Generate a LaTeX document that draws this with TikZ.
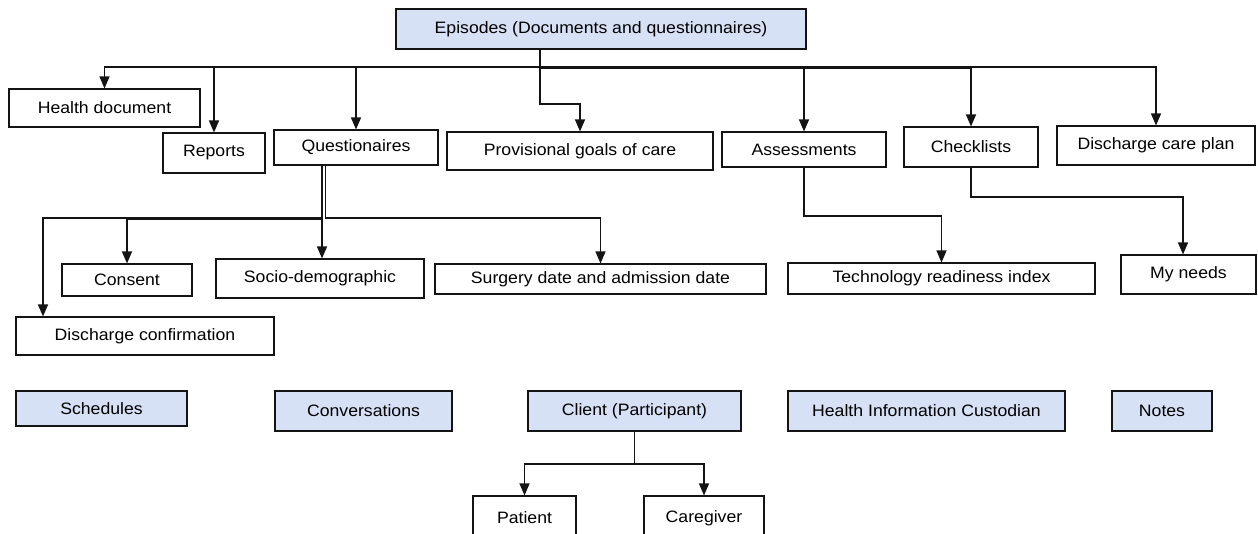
\documentclass[tikz,border=0pt]{standalone}
\usepackage{fontspec}
\setmainfont{Liberation Sans}[FakeStretch=1.07]
\usetikzlibrary{arrows.meta,calc}
\definecolor{headfill}{RGB}{214,225,245}
\definecolor{edgecol}{RGB}{20,20,20}
\begin{document}
\begin{tikzpicture}[x=1pt,y=-1pt,
  box/.style={draw=edgecol,line width=1.1pt,fill=white,inner sep=0pt,
    font=\fontsize{16.5}{20}\selectfont},
  head/.style={box,fill=headfill},
  arr/.style={draw=edgecol,line width=1.3pt,-{Triangle[length=12pt,width=10pt]}}]
\useasboundingbox (0,0) rectangle (1258,534);
\clip (0,0) rectangle (1258,534);
\fill[white] (0,0) rectangle (1258,534);

% top level
\node[head,minimum width=410,minimum height=40] (ep) at (601,29) {Episodes (Documents and questionnaires)};

\node[box,minimum width=191,minimum height=38] (hd) at (104.5,108) {Health document};
\node[box,minimum width=102,minimum height=40] (rep) at (214,153) {Reports};
\node[box,minimum width=164,minimum height=35] (que) at (356,147.5) {Questionaires};
\node[box,minimum width=266,minimum height=38] (prov) at (580,151) {Provisional goals of care};
\node[box,minimum width=164,minimum height=35] (ass) at (804,149.5) {Assessments};
\node[box,minimum width=134,minimum height=40] (chk) at (971,147) {Checklists};
\node[box,minimum width=198,minimum height=39] (dcp) at (1156,145.5) {Discharge care plan};

% second level
\node[box,minimum width=130,minimum height=32] (cons) at (127,280) {Consent};
\node[box,minimum width=208,minimum height=39] (socio) at (320,278.5) {Socio-demographic};
\node[box,minimum width=331,minimum height=30] (surg) at (600.5,279) {Surgery date and admission date};
\node[box,minimum width=258,minimum height=38] (dconf) at (145,336) {Discharge confirmation};
\node[box,minimum width=307,minimum height=31] (tri) at (941.5,278.5) {Technology readiness index};
\node[box,minimum width=135,minimum height=39] (myn) at (1188.5,274.5) {My needs};

% lower row
\node[head,minimum width=171,minimum height=35] (sch) at (101.5,408.5) {Schedules};
\node[head,minimum width=177,minimum height=40] (conv) at (363.5,411) {Conversations};
\node[head,minimum width=213,minimum height=40] (cli) at (634.5,411) {Client (Participant)};
\node[head,minimum width=277,minimum height=40] (hic) at (926.5,411) {Health Information Custodian};
\node[head,minimum width=100,minimum height=40] (notes) at (1162,411) {Notes};

\node[box,minimum width=103,minimum height=44] (pat) at (524.5,518) {Patient};
\node[box,minimum width=120,minimum height=44] (care) at (704,518) {Caregiver};

% routing helpers
\coordinate (epx) at (540,0);
\coordinate (bus) at (0,67);
\coordinate (busb) at (0,68.6);
\coordinate (bus2) at (0,104);
\coordinate (qx1) at (322,0);
\coordinate (qx2) at (325.4,0);
\coordinate (qbus) at (0,218);
\coordinate (qbusb) at (0,219.6);
\coordinate (dcx) at (43,0);
\coordinate (abus) at (0,216);
\coordinate (cbus) at (0,197);
\coordinate (mnx) at (1183,0);
\coordinate (clbus) at (0,464);

% Episodes branches
\draw[arr] (ep.south -| epx) |- (bus -| hd) -- (hd);
\draw[arr] (ep.south -| epx) |- (bus -| rep) -- (rep);
\draw[arr] (ep.south -| epx) |- (bus -| que) -- (que);
\draw[arr] (ep.south -| epx) |- (bus2 -| prov) -- (prov);
\draw[arr] (ep.south -| epx) |- (busb -| ass) -- (ass);
\draw[arr] (ep.south -| epx) |- (busb -| chk) -- (chk);
\draw[arr] (ep.south -| epx) |- (bus -| dcp) -- (dcp);

% Questionaires branches
\draw[arr] (que.south -| qx1) |- (qbus -| dcx) -- (dconf.north -| dcx);
\draw[arr] (que.south -| qx1) |- (qbusb -| cons) -- (cons);
\draw[arr] (que.south -| qx1) -- (socio.north -| qx1);
\draw[arr] (que.south -| qx2) |- (qbus -| surg) -- (surg);

% Assessments and Checklists branches
\draw[arr] (ass.south) |- (abus -| tri) -- (tri);
\draw[arr] (chk.south) |- (cbus -| mnx) -- (myn.north -| mnx);

% Client branches
\draw[arr] (cli.south) |- (clbus -| pat) -- (pat);
\draw[arr] (cli.south) |- (clbus -| care) -- (care);
\end{tikzpicture}
\end{document}
